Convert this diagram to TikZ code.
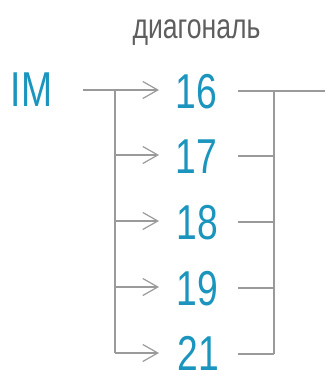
\documentclass[tikz,border=0pt]{standalone}
\usepackage{fontspec}
\usetikzlibrary{arrows.meta}
\newfontfamily\dinf[FakeStretch=0.76]{Liberation Sans}
\definecolor{numblue}{HTML}{1B95BD}
\definecolor{titlegray}{HTML}{5E5E5E}
\definecolor{linegray}{HTML}{9A9A9A}
\begin{document}
\begin{tikzpicture}[x=1pt,y=-1pt,
  num/.style={anchor=base,inner sep=0pt,text=numblue,font=\dinf\fontsize{49}{49}\selectfont},
  link/.style={draw=linegray,line width=1.2pt},
  arr/.style={link,-{Straight Barb[length=15pt,width=17pt,line width=1.2pt]}}]
\useasboundingbox (0,0) rectangle (325,370);
\node[anchor=base,inner sep=0pt,text=titlegray,font=\dinf\fontsize{35}{35}\selectfont] (title) at (196.5,38) {диагональ};
\node[anchor=base,inner sep=0pt,text=numblue,font=\dinf\fontsize{49}{49}\selectfont] (im) at (31.5,106) {IM};
\node[num] (n16) at (196.5,108) {16};
\node[num] (n17) at (196.5,173) {17};
\node[num] (n18) at (197.5,239) {18};
\node[num] (n19) at (197.5,305) {19};
\node[num] (n21) at (198.5,370) {21};
% left side
\coordinate (s) at (83,90);
\foreach \n/\y in {16/90,17/155,18/221,19/287,21/353}{
  \coordinate (a\n) at (159,\y);
  \coordinate (l\n) at (115,\y);
  \coordinate (r\n) at (238,\y+1);
  \coordinate (v\n) at (274,\y+1);
}
\coordinate (e16) at (325,91);
\draw[arr] (s) -- (a16);
\draw[link] (l16) -- (l21);
\foreach \n in {17,18,19,21}{\draw[arr] (l\n) -- (a\n);}
% right side
\draw[link] (r16) -- (e16);
\draw[link] (v16) -- (v21);
\foreach \n in {17,18,19,21}{\draw[link] (r\n) -- (v\n);}
\end{tikzpicture}
\end{document}
